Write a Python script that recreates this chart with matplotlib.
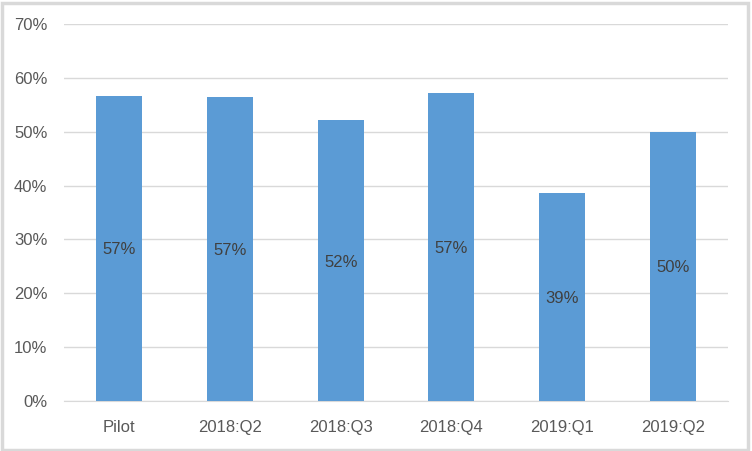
import matplotlib.pyplot as plt
from matplotlib.patches import Rectangle
from matplotlib.ticker import FuncFormatter

categories = ['Pilot', '2018:Q2', '2018:Q3', '2018:Q4', '2019:Q1', '2019:Q2']
values = [0.567, 0.565, 0.521, 0.572, 0.387, 0.500]
labels = ['57%', '57%', '52%', '57%', '39%', '50%']

plt.rcParams['font.family'] = ['Liberation Sans', 'DejaVu Sans']

fig = plt.figure(figsize=(7.52, 4.51), dpi=100)
# light grey outer frame like the Excel chart
fig.patches.append(Rectangle((0.002, 0.003), 0.993, 0.99, transform=fig.transFigure,
                             fill=False, edgecolor='#d9d9d9', linewidth=2.5))
ax = fig.add_axes([64 / 752, 1 - 401 / 451, (728 - 64) / 752, (401 - 24) / 451])

x = range(len(categories))
bars = ax.bar(x, values, width=0.415, color='#5b9bd5', zorder=3)
for i, (v, lab) in enumerate(zip(values, labels)):
    ax.text(i, v / 2, lab, ha='center', va='center_baseline', fontsize=12, color='#404040', zorder=4)

ax.set_xlim(-0.5, len(categories) - 0.5)
ax.set_ylim(0, 0.7)
ax.set_yticks([i / 10 for i in range(8)])
ax.yaxis.set_major_formatter(FuncFormatter(lambda y, _: f'{y:.0%}'))
ax.set_xticks(list(x))
ax.set_xticklabels(categories)
ax.grid(axis='y', color='#d9d9d9', linewidth=1, zorder=0)
for s in ['top', 'right', 'left']:
    ax.spines[s].set_visible(False)
ax.spines['bottom'].set_color('#d9d9d9')
ax.tick_params(axis='both', length=0, labelsize=12, colors='#595959')
ax.tick_params(axis='y', pad=12)
ax.tick_params(axis='x', pad=14)

fig.savefig('out.png', dpi=100)
